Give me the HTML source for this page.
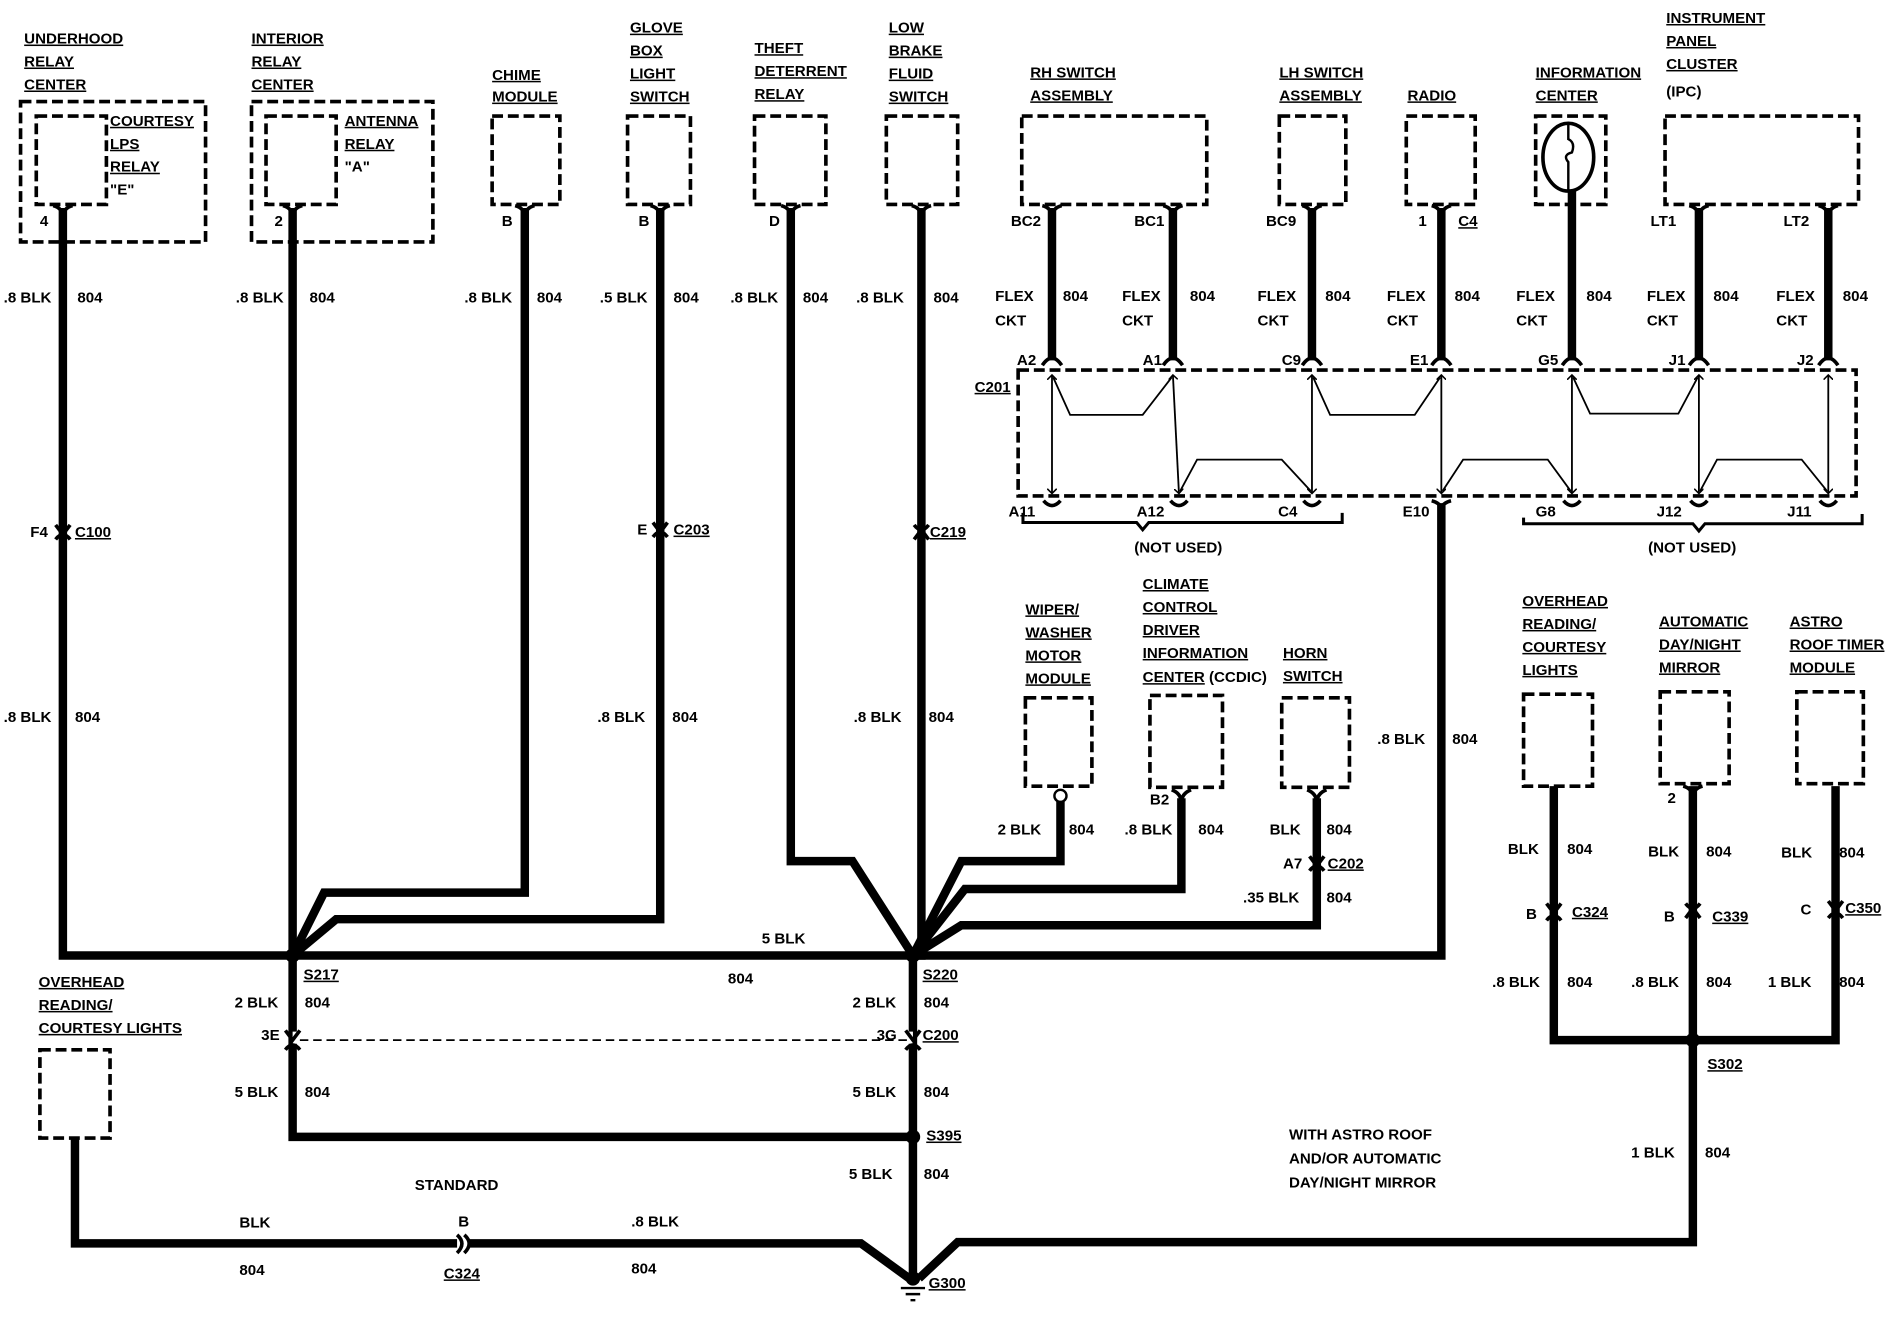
<!DOCTYPE html>
<html><head><meta charset="utf-8"><style>
html,body{margin:0;padding:0;background:#fff;}
svg{display:block;}
text{font-family:"Liberation Sans",sans-serif;font-weight:bold;font-size:12.5px;fill:#000;}
.u{text-decoration:underline;}
.w{stroke:#000;stroke-width:7;fill:none;stroke-linejoin:miter;}
.d{stroke:#000;stroke-width:3;fill:none;stroke-dasharray:9,4;}
.th{stroke:#000;stroke-width:1.5;fill:none;}
</style></head><body>
<svg width="1896" height="1328" viewBox="0 0 1568 1098" preserveAspectRatio="none" xmlns="http://www.w3.org/2000/svg">
<defs>
<marker id="ar" markerWidth="8" markerHeight="8" refX="4" refY="4" orient="auto-start-reverse" markerUnits="userSpaceOnUse"><path d="M0,0 L4,4 L0,8" stroke="#000" stroke-width="1.3" fill="none"/></marker>
</defs>

<text x="20" y="36" class="u">UNDERHOOD</text>
<text x="20" y="55" class="u">RELAY</text>
<text x="20" y="74" class="u">CENTER</text>
<rect x="17" y="84" width="153" height="116" class="d"/>
<rect x="30" y="96" width="58" height="73" class="d"/>
<text x="91" y="104" class="u">COURTESY</text>
<text x="91" y="123" class="u">LPS</text>
<text x="91" y="142" class="u">RELAY</text>
<text x="91" y="161">"E"</text>
<text x="33" y="187">4</text>

<text x="208" y="36" class="u">INTERIOR</text>
<text x="208" y="55" class="u">RELAY</text>
<text x="208" y="74" class="u">CENTER</text>
<rect x="208" y="84" width="150" height="116" class="d"/>
<rect x="220" y="96" width="58" height="73" class="d"/>
<text x="285" y="104" class="u">ANTENNA</text>
<text x="285" y="123" class="u">RELAY</text>
<text x="285" y="142">"A"</text>
<text x="227" y="187">2</text>

<text x="407" y="66" class="u">CHIME</text>
<text x="407" y="84" class="u">MODULE</text>
<rect x="407" y="96" width="56" height="73" class="d"/>
<text x="415" y="187">B</text>

<text x="521" y="27" class="u">GLOVE</text>
<text x="521" y="46" class="u">BOX</text>
<text x="521" y="65" class="u">LIGHT</text>
<text x="521" y="84" class="u">SWITCH</text>
<rect x="519" y="96" width="52" height="73" class="d"/>
<text x="528" y="187">B</text>

<text x="624" y="44" class="u">THEFT</text>
<text x="624" y="63" class="u">DETERRENT</text>
<text x="624" y="82" class="u">RELAY</text>
<rect x="624" y="96" width="59" height="73" class="d"/>
<text x="636" y="187">D</text>

<text x="735" y="27" class="u">LOW</text>
<text x="735" y="46" class="u">BRAKE</text>
<text x="735" y="65" class="u">FLUID</text>
<text x="735" y="84" class="u">SWITCH</text>
<rect x="733" y="96" width="59" height="73" class="d"/>

<path class="w" d="M52,172 V790 H242"/>
<path class="w" d="M242,172 V940 H755"/>
<path class="w" d="M434,172 V738 H268 L242,790"/>
<path class="w" d="M546,172 V760 H278 L242,790"/>
<path class="w" d="M654,172 V712 H705 L755,790"/>
<path class="w" d="M762,172 V790 L755,790 V1057"/>
<path class="w" d="M242,790 H1192 V416"/>
<path class="w" d="M1192,172 V298"/>
<path class="w" d="M877,660 V712 H795 L755,790"/>
<path class="w" d="M977,660 V735 H798 L755,790"/>
<path class="w" d="M1089,660 V765 H795 L755,790"/>
<path class="w" d="M62,942 V1028 H712 L752,1057"/>
<path class="w" d="M1400,860 V1027 H792 L760,1057"/>
<path class="w" d="M1285,650 V860 H1518 V650"/>
<path class="w" d="M1400,650 V860"/>

<g stroke="#000" stroke-width="3" fill="none">
<path d="M44,170 Q52,172 52,180 Q52,172 60,170"/>
<path d="M234,170 Q242,172 242,180 Q242,172 250,170"/>
<path d="M426,170 Q434,172 434,180 Q434,172 442,170"/>
<path d="M538,170 Q546,172 546,180 Q546,172 554,170"/>
<path d="M646,170 Q654,172 654,180 Q654,172 662,170"/>
<path d="M754,170 Q762,172 762,180 Q762,172 770,170"/>
</g>

<text x="3" y="250">.8 BLK</text><text x="64" y="250">804</text>
<text x="195" y="250">.8 BLK</text><text x="256" y="250">804</text>
<text x="384" y="250">.8 BLK</text><text x="444" y="250">804</text>
<text x="496" y="250">.5 BLK</text><text x="557" y="250">804</text>
<text x="604" y="250">.8 BLK</text><text x="664" y="250">804</text>
<text x="708" y="250">.8 BLK</text><text x="772" y="250">804</text>

<text x="3" y="597">.8 BLK</text><text x="62" y="597">804</text>
<text x="494" y="597">.8 BLK</text><text x="556" y="597">804</text>
<text x="706" y="597">.8 BLK</text><text x="768" y="597">804</text>

<g stroke="#000" stroke-width="3" fill="none">
<path d="M46,434 L52,442 L58,434 M46,446 Q52,438 58,446"/>
<path d="M540,432 L546,440 L552,432 M540,444 Q546,436 552,444"/>
<path d="M756,446 L762,438 L768,446 M756,434 Q762,442 768,434"/>
</g>
<text x="25" y="444">F4</text><text x="62" y="444" class="u">C100</text>
<text x="527" y="442">E</text><text x="557" y="442" class="u">C203</text>
<text x="769" y="444" class="u">C219</text>

<circle cx="242" cy="790" r="6"/>
<circle cx="755" cy="790" r="6"/>
<circle cx="755" cy="940" r="6"/>
<circle cx="755" cy="1057" r="6"/>
<circle cx="1400" cy="860" r="6"/>
<text x="251" y="810" class="u">S217</text>
<text x="763" y="810" class="u">S220</text>
<text x="630" y="780">5 BLK</text>
<text x="602" y="813">804</text>
<text x="194" y="833">2 BLK</text><text x="252" y="833">804</text>
<text x="705" y="833">2 BLK</text><text x="764" y="833">804</text>
<line x1="242" y1="858" x2="755" y2="858" stroke="#fff" stroke-width="10"/>
<line x1="248" y1="860" x2="750" y2="860" stroke="#000" stroke-width="1.5" stroke-dasharray="7,4"/>
<g stroke="#000" stroke-width="3" fill="none">
<path d="M236,852 L242,860 L248,852 M236,868 Q242,860 248,868"/>
<path d="M749,852 L755,860 L761,852 M749,868 Q755,860 761,868"/>
</g>
<text x="216" y="860">3E</text>
<text x="725" y="860">3G</text><text x="763" y="860" class="u">C200</text>
<text x="194" y="907">5 BLK</text><text x="252" y="907">804</text>
<text x="705" y="907">5 BLK</text><text x="764" y="907">804</text>
<text x="766" y="943" class="u">S395</text>
<text x="702" y="975">5 BLK</text><text x="764" y="975">804</text>

<text x="32" y="816" class="u">OVERHEAD</text>
<text x="32" y="835" class="u">READING/</text>
<text x="32" y="854" class="u">COURTESY LIGHTS</text>
<rect x="33" y="868" width="58" height="73" class="d"/>
<text x="343" y="984">STANDARD</text>
<text x="198" y="1015">BLK</text>
<text x="379" y="1014">B</text>
<text x="522" y="1014">.8 BLK</text>
<text x="198" y="1054">804</text>
<text x="522" y="1053">804</text>
<text x="367" y="1057" class="u">C324</text>
<rect x="378" y="1020" width="10" height="16" fill="#fff"/>
<path d="M378,1021 Q386,1028 378,1036 M384,1021 Q392,1028 384,1036" stroke="#000" stroke-width="3" fill="none"/>
<path d="M745,1065 H765 M749,1070 H761 M753,1075 H757" stroke="#000" stroke-width="2"/>
<text x="768" y="1065" class="u">G300</text>

<text x="852" y="64" class="u">RH SWITCH</text>
<text x="852" y="83" class="u">ASSEMBLY</text>
<rect x="845" y="96" width="153" height="73" class="d"/>
<text x="1058" y="64" class="u">LH SWITCH</text>
<text x="1058" y="83" class="u">ASSEMBLY</text>
<rect x="1058" y="96" width="55" height="73" class="d"/>
<text x="1164" y="83" class="u">RADIO</text>
<rect x="1163" y="96" width="57" height="73" class="d"/>
<text x="1270" y="64" class="u">INFORMATION</text>
<text x="1270" y="83" class="u">CENTER</text>
<rect x="1270" y="96" width="58" height="73" class="d"/>
<ellipse cx="1297" cy="130" rx="21" ry="28" fill="none" stroke="#000" stroke-width="3"/>
<path d="M1297,102 V115 Q1303,118 1300,126 Q1292,128 1297,134 V158" stroke="#000" stroke-width="2" fill="none"/>
<text x="1378" y="19" class="u">INSTRUMENT</text>
<text x="1378" y="38" class="u">PANEL</text>
<text x="1378" y="57" class="u">CLUSTER</text>
<text x="1378" y="80">(IPC)</text>
<rect x="1377" y="96" width="160" height="73" class="d"/>

<path class="w" d="M870,172 V298 M970,172 V298 M1085,172 V298 M1300,158 V298 M1405,172 V298 M1512,172 V298"/>
<g stroke="#000" stroke-width="3" fill="none">
<path d="M862,170 Q870,172 870,180 Q870,172 878,170"/>
<path d="M962,170 Q970,172 970,180 Q970,172 978,170"/>
<path d="M1077,170 Q1085,172 1085,180 Q1085,172 1093,170"/>
<path d="M1184,170 Q1192,172 1192,180 Q1192,172 1200,170"/>
<path d="M1397,170 Q1405,172 1405,180 Q1405,172 1413,170"/>
<path d="M1504,170 Q1512,172 1512,180 Q1512,172 1520,170"/>
<path d="M862,302 Q870,290 878,302"/>
<path d="M962,302 Q970,290 978,302"/>
<path d="M1077,302 Q1085,290 1093,302"/>
<path d="M1184,302 Q1192,290 1200,302"/>
<path d="M1292,302 Q1300,290 1308,302"/>
<path d="M1397,302 Q1405,290 1413,302"/>
<path d="M1504,302 Q1512,290 1520,302"/>
<path d="M863,414 Q870,422 877,414"/>
<path d="M968,414 Q975,422 982,414"/>
<path d="M1078,414 Q1085,422 1092,414"/>
<path d="M1293,414 Q1300,422 1307,414"/>
<path d="M1398,414 Q1405,422 1412,414"/>
<path d="M1505,414 Q1512,422 1519,414"/>
<path d="M1184,414 Q1192,416 1192,422 Q1192,416 1200,414"/>
</g>
<text x="836" y="187">BC2</text><text x="938" y="187">BC1</text><text x="1047" y="187">BC9</text>
<text x="1173" y="187">1</text><text x="1206" y="187" class="u">C4</text>
<text x="1365" y="187">LT1</text><text x="1475" y="187">LT2</text>

<g>
<text x="823" y="249">FLEX</text><text x="823" y="269">CKT</text><text x="879" y="249">804</text>
<text x="928" y="249">FLEX</text><text x="928" y="269">CKT</text><text x="984" y="249">804</text>
<text x="1040" y="249">FLEX</text><text x="1040" y="269">CKT</text><text x="1096" y="249">804</text>
<text x="1147" y="249">FLEX</text><text x="1147" y="269">CKT</text><text x="1203" y="249">804</text>
<text x="1254" y="249">FLEX</text><text x="1254" y="269">CKT</text><text x="1312" y="249">804</text>
<text x="1362" y="249">FLEX</text><text x="1362" y="269">CKT</text><text x="1417" y="249">804</text>
<text x="1469" y="249">FLEX</text><text x="1469" y="269">CKT</text><text x="1524" y="249">804</text>
</g>

<text x="841" y="302">A2</text><text x="945" y="302">A1</text><text x="1060" y="302">C9</text>
<text x="1166" y="302">E1</text><text x="1272" y="302">G5</text><text x="1380" y="302">J1</text><text x="1486" y="302">J2</text>
<text x="806" y="324" class="u">C201</text>
<rect x="842" y="306" width="693" height="104" class="d"/>
<g class="th">
<line x1="870" y1="310" x2="870" y2="408" marker-start="url(#ar)" marker-end="url(#ar)"/>
<line x1="970" y1="310" x2="975" y2="408" marker-start="url(#ar)" marker-end="url(#ar)"/>
<line x1="1085" y1="310" x2="1085" y2="408" marker-start="url(#ar)" marker-end="url(#ar)"/>
<line x1="1192" y1="310" x2="1192" y2="408" marker-start="url(#ar)" marker-end="url(#ar)"/>
<line x1="1300" y1="310" x2="1300" y2="408" marker-start="url(#ar)" marker-end="url(#ar)"/>
<line x1="1405" y1="310" x2="1405" y2="408" marker-start="url(#ar)" marker-end="url(#ar)"/>
<line x1="1512" y1="310" x2="1512" y2="408" marker-start="url(#ar)" marker-end="url(#ar)"/>
<path d="M871,312 L885,343 H945 L969,312"/>
<path d="M976,406 L990,380 H1060 L1084,406"/>
<path d="M1086,312 L1100,343 H1170 L1191,312"/>
<path d="M1193,406 L1210,380 H1280 L1299,406"/>
<path d="M1301,312 L1315,342 H1388 L1404,312"/>
<path d="M1406,406 L1420,380 H1490 L1511,406"/>
</g>
<text x="834" y="427">A11</text><text x="940" y="427">A12</text><text x="1057" y="427">C4</text>
<text x="1160" y="427">E10</text><text x="1270" y="427">G8</text><text x="1370" y="427">J12</text><text x="1478" y="427">J11</text>
<path d="M846,424 V432 H940 L945,438 L950,432 H1110 V424" stroke="#000" stroke-width="2.5" fill="none"/>
<path d="M1260,428 V433 H1400 L1405,439 L1410,433 H1540 V425" stroke="#000" stroke-width="2.5" fill="none"/>
<text x="938" y="457">(NOT USED)</text>
<text x="1363" y="457">(NOT USED)</text>

<text x="848" y="508" class="u">WIPER/</text>
<text x="848" y="527" class="u">WASHER</text>
<text x="848" y="546" class="u">MOTOR</text>
<text x="848" y="565" class="u">MODULE</text>
<rect x="848" y="577" width="55" height="73" class="d"/>
<circle cx="877" cy="658" r="5" fill="#fff" stroke="#000" stroke-width="2"/>
<text x="945" y="487" class="u">CLIMATE</text>
<text x="945" y="506" class="u">CONTROL</text>
<text x="945" y="525" class="u">DRIVER</text>
<text x="945" y="544" class="u">INFORMATION</text>
<text x="945" y="564"><tspan class="u">CENTER</tspan> (CCDIC)</text>
<rect x="951" y="575" width="60" height="76" class="d"/>
<text x="951" y="665">B2</text>
<text x="1061" y="544" class="u">HORN</text>
<text x="1061" y="563" class="u">SWITCH</text>
<rect x="1060" y="577" width="56" height="74" class="d"/>
<g stroke="#000" stroke-width="3" fill="none">
<path d="M969,653 Q977,656 977,664 Q977,656 985,653"/>
<path d="M1081,653 Q1089,656 1089,664 Q1089,656 1097,653"/>
<path d="M1083,708 L1089,716 L1095,708 M1083,720 Q1089,712 1095,720"/>
</g>
<text x="825" y="690">2 BLK</text><text x="884" y="690">804</text>
<text x="930" y="690">.8 BLK</text><text x="991" y="690">804</text>
<text x="1050" y="690">BLK</text><text x="1097" y="690">804</text>
<text x="1061" y="718">A7</text><text x="1098" y="718" class="u">C202</text>
<text x="1028" y="746">.35 BLK</text><text x="1097" y="746">804</text>
<text x="1139" y="615">.8 BLK</text><text x="1201" y="615">804</text>

<text x="1259" y="501" class="u">OVERHEAD</text>
<text x="1259" y="520" class="u">READING/</text>
<text x="1259" y="539" class="u">COURTESY</text>
<text x="1259" y="558" class="u">LIGHTS</text>
<rect x="1260" y="574" width="57" height="76" class="d"/>
<text x="1372" y="518" class="u">AUTOMATIC</text>
<text x="1372" y="537" class="u">DAY/NIGHT</text>
<text x="1372" y="556" class="u">MIRROR</text>
<rect x="1373" y="572" width="57" height="76" class="d"/>
<text x="1480" y="518" class="u">ASTRO</text>
<text x="1480" y="537" class="u">ROOF TIMER</text>
<text x="1480" y="556" class="u">MODULE</text>
<rect x="1486" y="572" width="55" height="76" class="d"/>
<g stroke="#000" stroke-width="3" fill="none">
<path d="M1392,650 Q1400,652 1400,660 Q1400,652 1408,650"/>
<path d="M1279,747 L1285,755 L1291,747 M1279,761 Q1285,753 1291,761"/>
<path d="M1394,759 L1400,751 L1406,759 M1394,747 Q1400,755 1406,747"/>
<path d="M1512,745 L1518,753 L1524,745 M1512,759 Q1518,751 1524,759"/>
</g>
<text x="1379" y="664">2</text>
<text x="1247" y="706">BLK</text><text x="1296" y="706">804</text>
<text x="1363" y="708">BLK</text><text x="1411" y="708">804</text>
<text x="1473" y="709">BLK</text><text x="1521" y="709">804</text>
<text x="1262" y="760">B</text><text x="1300" y="758" class="u">C324</text>
<text x="1376" y="762">B</text><text x="1416" y="762" class="u">C339</text>
<text x="1489" y="756">C</text><text x="1526" y="755" class="u">C350</text>
<text x="1234" y="816">.8 BLK</text><text x="1296" y="816">804</text>
<text x="1349" y="816">.8 BLK</text><text x="1411" y="816">804</text>
<text x="1462" y="816">1 BLK</text><text x="1521" y="816">804</text>
<text x="1412" y="884" class="u">S302</text>
<text x="1349" y="957">1 BLK</text><text x="1410" y="957">804</text>
<text x="1066" y="942">WITH ASTRO ROOF</text>
<text x="1066" y="962">AND/OR AUTOMATIC</text>
<text x="1066" y="982">DAY/NIGHT MIRROR</text>
</svg>
</body></html>
